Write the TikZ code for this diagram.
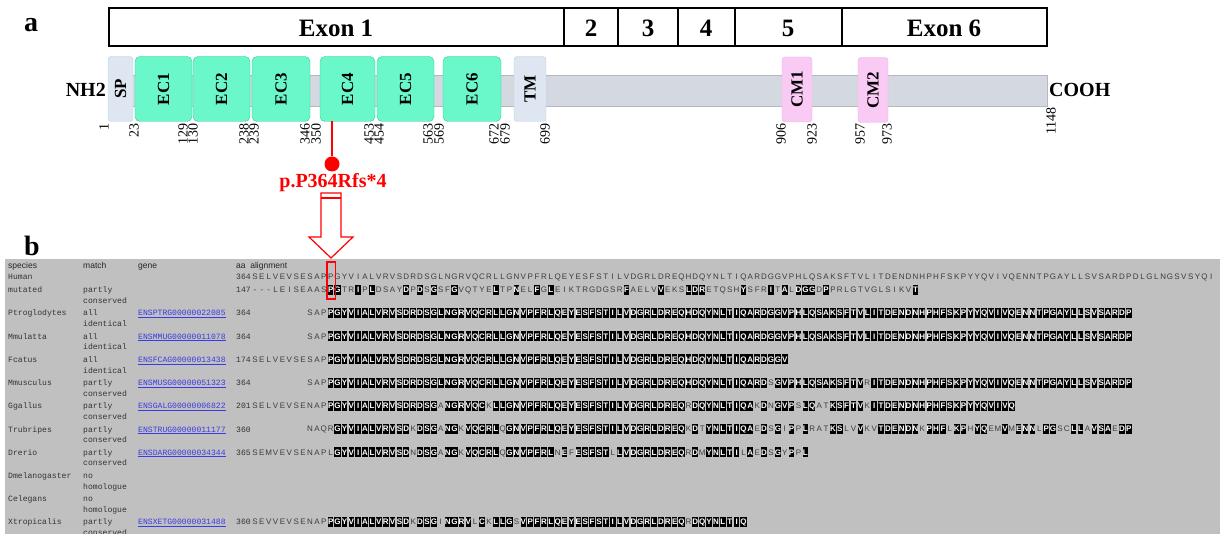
\documentclass[tikz,border=0pt]{standalone}
\usepackage{fontspec}
\setmainfont{Liberation Serif}
\newfontfamily\alnsans{Liberation Sans}
\newfontfamily\alnmono{Liberation Mono}
\definecolor{ecgreen}{HTML}{6AF7CA}
\definecolor{ecedge}{HTML}{3CC79C}
\definecolor{spblue}{HTML}{DDE6F1}
\definecolor{spedge}{HTML}{C3CFDD}
\definecolor{cmpink}{HTML}{F9CBF4}
\definecolor{cmedge}{HTML}{EDB0E8}
\definecolor{barcol}{HTML}{D4D9E1}
\definecolor{panelgray}{HTML}{C0C0C0}
\definecolor{linkblue}{HTML}{3A3AE6}
\definecolor{seqgray}{HTML}{3C3C3C}

% one alignment row: capitals are boxed, small letters are plain
\newcount\alnk
\def\alnrow#1#2#3#4{\def\alnname{#1}\def\alny{#2}\alnk=#3\relax\alnnext#4\relax}
\def\alnnext#1{\ifx#1\relax\else\alnchar#1\advance\alnk by 1\relax\expandafter\alnnext\fi}
\def\alnchar#1{%
  \pgfmathsetmacro\alnx{255+6.88*\the\alnk}%
  \ifnum`#1<`a\relax
    \if-#1\node[seqlow] (\alnname-\the\alnk) at (\alnx,\alny) {-};%
    \else\node[seqhigh] (\alnname-\the\alnk) at (\alnx,\alny) {#1};\fi
  \else
    \node[seqlow] (\alnname-\the\alnk) at (\alnx,\alny) {\uppercase{#1}};%
  \fi}

\begin{document}
\begin{tikzpicture}[x=1pt,y=-1pt,
    panellab/.style={font=\bfseries\fontsize{28}{28}\selectfont},
    exonlab/.style={font=\bfseries\fontsize{25}{25}\selectfont},
    dombox/.style={rotate=90, rounded corners=5pt, inner sep=0pt, minimum width=65pt,
      font=\bfseries\fontsize{17}{17}\selectfont},
    ecbox/.style={dombox, fill=ecgreen, draw=ecedge},
    spbox/.style={dombox, rounded corners=3pt, fill=spblue, draw=spedge},
    cmbox/.style={dombox, rounded corners=3pt, fill=cmpink, draw=cmedge},
    poslab/.style={rotate=90, anchor=east, inner sep=0pt, font=\fontsize{14}{14}\selectfont},
    endlab/.style={inner sep=0pt, font=\bfseries\fontsize{20}{20}\selectfont},
    headlab/.style={anchor=base west, inner sep=0pt, text=black!85, font=\alnsans\fontsize{8.5}{8.5}\selectfont},
    rowlab/.style={anchor=base west, inner sep=0pt, text=black!80, font=\alnmono\fontsize{8.1}{8.1}\selectfont},
    genelab/.style={rowlab, text=linkblue},
    seqlow/.style={inner sep=0pt, text=seqgray, text height=5.8pt, text depth=0pt,
      font=\alnsans\fontsize{8}{8}\selectfont},
    seqhigh/.style={seqlow, fill=black, text=white, minimum width=5.5pt, minimum height=10pt,
      font=\alnsans\bfseries\fontsize{8}{8}\selectfont}]
  \useasboundingbox (0,0) rectangle (1220,534);

  % panel a: exons
  \node[panellab] (a) at (31,25) {a};
  \draw[line width=1.3pt] (109,8) rectangle (1047,46);
  \foreach \x in {564,618,678,735,842}
    \draw[line width=1.3pt] (\x,8) -- (\x,46);
  \node[exonlab] (ex1) at (336,28) {Exon 1};
  \node[exonlab] (ex2) at (591,28) {2};
  \node[exonlab] (ex3) at (648,28) {3};
  \node[exonlab] (ex4) at (706,28) {4};
  \node[exonlab] (ex5) at (788,28) {5};
  \node[exonlab] (ex6) at (944,28) {Exon 6};

  % panel a: protein
  \draw[fill=barcol, draw=barcol!85!black] (109,75) rectangle (1047,106);
  \node[spbox, minimum height=25pt] (sp) at (120.5,89) {SP};
  \node[ecbox, minimum height=57pt] (ec1) at (163.5,89) {EC1};
  \node[ecbox, minimum height=57pt] (ec2) at (221.5,89) {EC2};
  \node[ecbox, minimum height=58pt] (ec3) at (281,89) {EC3};
  \node[ecbox, minimum height=55pt] (ec4) at (347.5,89) {EC4};
  \node[ecbox, minimum height=57pt] (ec5) at (405.5,89) {EC5};
  \node[ecbox, minimum height=58pt] (ec6) at (472,89) {EC6};
  \node[spbox, minimum height=32pt] (tm) at (530,89) {TM};
  \node[cmbox, minimum height=30pt] (cm1) at (797,89.5) {CM1};
  \node[cmbox, minimum height=30pt] (cm2) at (873,90) {CM2};
  \node[endlab, anchor=east] (nh2) at (106,90) {NH2};
  \node[endlab, anchor=west] (cooh) at (1049,90) {COOH};
  \foreach \n/\x in {1/104,23/134,129/183,130/193,238/244,239/254,346/305,350/316,
      453/369,454/379,563/428,569/439,672/494,679/505,699/545,906/781,923/812,957/860,973/887}
    \node[poslab] (p\n) at (\x,123) {\n};
  \node[poslab] (p1148) at (1051,107) {1148};

  % mutation
  \coordinate (mutpos) at (332,121);
  \node[circle, fill=red, inner sep=0pt, minimum size=15pt] (mutdot) at (332,164) {};
  \draw[red, line width=1.6pt] (mutpos) -- (mutdot);
  \node[endlab, text=red] (mutlab) at (333,183) {p.P364Rfs*4};
  \draw[red, line width=1.2pt, fill=white] (321,193) -- (341,193) -- (341,237) -- (353,237)
    -- (331,258) -- (309,237) -- (321,237) -- cycle;
  \draw[red, line width=1.2pt] (321,198) -- (341,198);

  % panel b: alignment
  \node[panellab] (b) at (32,246) {b};
  \fill[panelgray] (5,259) rectangle (1220,534);
  \node[headlab] (hsp) at (8,269) {species};
  \node[headlab] (hma) at (83,269) {match};
  \node[headlab] (hge) at (138,269) {gene};
  \node[headlab] (haa) at (236,269) {aa\ \ alignment};
  \node[rowlab] (hum) at (8,279.7) {Human};
  \node[rowlab] (humaa) at (236,279.7) {364};
  \node[rowlab] (mut) at (8,293) {mutated};
  \node[rowlab] (mutma) at (83,293) {partly};
  \node[rowlab] (mutmb) at (83,303.7) {conserved};
  \node[rowlab] (mutaa) at (236,293) {147};
  \foreach \sp/\ma/\mb [count=\i from 0] in {Ptroglodytes/all/identical,Mmulatta/all/identical,
      Fcatus/all/identical,Mmusculus/partly/conserved,Ggallus/partly/conserved,
      Trubripes/partly/conserved,Drerio/partly/conserved,Dmelanogaster/no/homologue,
      Celegans/no/homologue,Xtropicalis/partly/conserved}{
    \node[rowlab] (sp\i) at (8,316+23.2*\i) {\sp};
    \node[rowlab] (ma\i) at (83,316+23.2*\i) {\ma};
    \node[rowlab] (mb\i) at (83,326.7+23.2*\i) {\mb};
  }
  \foreach \ge/\aa/\i in {ENSPTRG00000022085/364/0,ENSMMUG00000011078/364/1,
      ENSFCAG00000013438/174/2,ENSMUSG00000051323/364/3,ENSGALG00000006822/201/4,
      ENSTRUG00000011177/360/5,ENSDARG00000034344/365/6,ENSXETG00000031488/360/9}{
    \node[genelab] (ge\i) at (138,316+23.2*\i) {\underline{\ge}};
    \node[rowlab] (aa\i) at (236,316+23.2*\i) {\aa};
  }

  \alnrow{hs}{276.7}{0}{selvevsesappgyvialvrvsdrdsglngrvqcrllgnvpfrlqeyesfstilvdgrldreqhdqynltiqardggvphlqsaksftvlitdendnhphfskpyyqvivqenntpgayllsvsardpdlglngsvsyqi}
  \alnrow{mu}{290}{0}{---leiseaasPGtrIpLdsayDpDsGsfGvqtyeLtpNelFgLeiktrgdgsrFaelvVeksLDRetqshYsfrItAlDGGdPprlgtvglsikvT}
  \alnrow{ptr}{313}{8}{sapPGYVIALVRVSDRDSGLNGRVQCRLLGNVPFRLQEYESFSTILVDGRLDREQHDQYNLTIQARDGGVPHLQSAKSFTVLITDENDNHPHFSKPYYQVIVQENNTPGAYLLSVSARDP}
  \alnrow{mml}{336.2}{8}{sapPGYVIALVRVSDRDSGLNGRVQCRLLGNVPFRLQEYESFSTILVDGRLDREQHDQYNLTIQARDGGVPHLQSAKSFTVLITDENDNHPHFSKPYYQVIVQENNTPGAYLLSVSARDP}
  \alnrow{fca}{359.4}{0}{selvevsesapPGYVIALVRVSDRDSGLNGRVQCRLLGNVPFRLQEYESFSTILVDGRLDREQHDQYNLTIQARDGGV}
  \alnrow{mmu}{382.6}{8}{sapPGYVIALVRVSDRDSGLNGRVQCRLLGNVPFRLQEYESFSTILVDGRLDREQHDQYNLTIQARDsGVPHLQSAKSFTVrITDENDNHPHFSKPYYQVIVQENNTPGAYLLSVSARDP}
  \alnrow{gga}{405.8}{0}{selvevsenapPGYVIALVRVSDRDSGaNGRVQCkLLGNVPFRLQEYESFSTILVDGRLDREQrDQYNLTIQAkDnGVPsLQatKSFTVkITDENDNHPHFSKPYYQVIVQ}
  \alnrow{tru}{429}{8}{naqrGYVIALVRVSDkDSGaNGkVQCRLqGNVPFRLQEYESFSTILVDGRLDREQkDtYNLTIQAeDsGiPpLratKSlvVkvTDENDNkPHFlKPhYQemVmENNlPGscLLaVSAeDP}
  \alnrow{dre}{452.2}{0}{semvevsenaplGYVIALVRVSDnDSGaNGkVQCRLqGNVPFRLnEfESFSTlLVDGRLDREQrDmYNLTIlAeDsGyPpL}
  \alnrow{xtr}{521.8}{0}{sevvevsenapPGYVIALVRVSDkDSGiNGRVlCkLLGsVPFRLQEYESFSTILVDGRLDREQrDQYNLTIQ}

  \draw[red, line width=1.3pt] (327,262) rectangle (335.5,299);
\end{tikzpicture}
\end{document}
